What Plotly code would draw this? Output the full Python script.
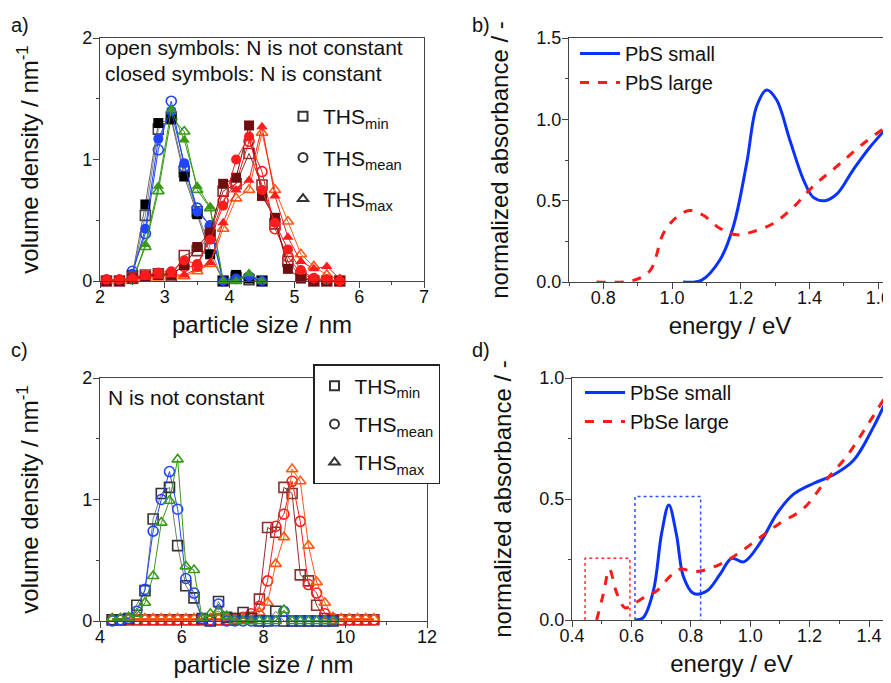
import plotly.graph_objects as go

# the page body adds an 8px margin; the figure is sized so it fills the 891x683 window
OFF = 8
W, H = 891 - OFF, 683 - OFF
FONT = "Arial, Liberation Sans, sans-serif"


def PX(p):
    return (p - OFF) / W


def PY(p):
    return 1 - (p - OFF) / H


# ---------------- panel a data ----------------
xa_small = [2.5, 2.7, 2.9, 3.1, 3.3, 3.5, 3.7, 3.9, 4.1, 4.3, 4.5]
a_min_closed = [0.05, 0.63, 1.30, 1.33, 0.86, 0.55, 0.22, 0.00, 0.05, 0.02, 0.00]
a_min_open = [0.04, 0.54, 1.25, 1.35, 0.90, 0.57, 0.27, 0.00, 0.03, 0.01, 0.00]
a_mean_closed = [0.06, 0.43, 1.17, 1.40, 0.97, 0.57, 0.46, 0.00, 0.02, 0.04, 0.00]
a_mean_open = [0.08, 0.39, 1.08, 1.48, 0.94, 0.60, 0.45, 0.00, 0.02, 0.03, 0.00]
a_max_closed = [0.00, 0.30, 0.78, 1.41, 1.16, 0.78, 0.61, 0.00, 0.00, 0.06, 0.00]
a_max_open = [0.00, 0.28, 0.74, 1.35, 1.23, 0.75, 0.60, 0.00, 0.00, 0.05, 0.00]

xa_large = [2.1, 2.3, 2.5, 2.7, 2.9, 3.1, 3.3, 3.5, 3.7, 3.9,
            4.1, 4.3, 4.5, 4.7, 4.9, 5.1, 5.3, 5.5, 5.7]
A_min_closed = [0.00, 0.00, 0.02, 0.04, 0.05, 0.05, 0.13, 0.28, 0.40, 0.80,
                0.85, 1.28, 0.70, 0.52, 0.10, 0.02, 0.00, 0.00, 0.00]
A_min_open = [0.00, 0.00, 0.03, 0.05, 0.06, 0.04, 0.21, 0.25, 0.38, 0.74,
              0.80, 1.05, 0.79, 0.47, 0.16, 0.04, 0.00, 0.00, 0.00]
A_mean_closed = [0.01, 0.01, 0.02, 0.05, 0.07, 0.08, 0.17, 0.14, 0.34, 0.62,
                 1.00, 1.19, 0.75, 0.48, 0.26, 0.09, 0.02, 0.01, 0.00]
A_mean_open = [0.01, 0.01, 0.02, 0.04, 0.06, 0.06, 0.12, 0.12, 0.36, 0.66,
               0.81, 1.15, 0.90, 0.43, 0.20, 0.06, 0.02, 0.01, 0.00]
A_max_closed = [0.01, 0.01, 0.01, 0.03, 0.04, 0.05, 0.05, 0.10, 0.15, 0.48,
                0.75, 0.83, 1.27, 0.70, 0.36, 0.16, 0.10, 0.12, 0.02]
A_max_open = [0.00, 0.00, 0.01, 0.02, 0.03, 0.04, 0.04, 0.08, 0.14, 0.43,
              0.68, 0.75, 1.22, 0.75, 0.49, 0.22, 0.12, 0.05, 0.01]

# ---------------- panel c data ----------------
xc_small = [4.3, 4.5, 4.7, 4.9, 5.1, 5.3, 5.5, 5.7, 5.9, 6.1, 6.3, 6.5, 6.7, 6.9,
            7.1, 7.3, 7.5, 7.7, 7.9, 8.1, 8.3, 8.5, 8.7, 8.9, 9.1, 9.3, 9.5, 9.7]
c_min = [0.01, 0.01, 0.02, 0.13, 0.25, 0.84, 1.05, 1.10, 0.62, 0.29, 0.19, 0.02, 0.00, 0.16,
         0.03, 0.02, 0.07, 0.02, 0.00, 0.00, 0.08, 0.00, 0.00, 0.00, 0.00, 0.00, 0.00, 0.00]
c_mean = [0.00, 0.01, 0.02, 0.08, 0.26, 0.74, 1.00, 1.23, 0.92, 0.35, 0.23, 0.02, 0.00, 0.14,
          0.00, 0.00, 0.00, 0.00, 0.00, 0.00, 0.00, 0.08, 0.00, 0.00, 0.00, 0.00, 0.00, 0.00]
c_max = [0.02, 0.02, 0.03, 0.06, 0.15, 0.37, 0.81, 0.99, 1.33, 0.45, 0.42, 0.02, 0.06, 0.08,
         0.04, 0.00, 0.00, 0.00, 0.00, 0.00, 0.00, 0.09, 0.00, 0.00, 0.00, 0.00, 0.00, 0.00]

xc_large = [4.3, 4.5, 4.7, 4.9, 5.1, 5.3, 5.5, 5.7, 5.9, 6.1, 6.3, 6.5, 6.7, 6.9, 7.1, 7.3,
            7.5, 7.7, 7.9, 8.1, 8.3, 8.5, 8.7, 8.9, 9.1, 9.3, 9.5, 9.7, 9.9, 10.1, 10.3, 10.5, 10.7]
C_min = [0.01] * 16 + [0.02, 0.03, 0.18, 0.77, 0.73, 1.10, 1.05, 0.38, 0.33, 0.13, 0.02,
                       0.01, 0.01, 0.01, 0.01, 0.01, 0.01]
C_mean = [0.01] * 15 + [0.02, 0.03, 0.06, 0.12, 0.33, 0.78, 0.88, 1.15, 0.82, 0.30, 0.23, 0.06,
                        0.02, 0.01, 0.01, 0.01, 0.01, 0.01]
C_max = [0.02] * 17 + [0.03, 0.07, 0.15, 0.47, 0.69, 1.25, 1.15, 0.62, 0.32, 0.15,
                       0.03, 0.02, 0.02, 0.02, 0.02, 0.02]

# ---------------- panel b data ----------------
pbs_small_e = [1.032, 1.085, 1.139, 1.178, 1.217, 1.246, 1.275, 1.304, 1.343, 1.382,
               1.411, 1.445, 1.479, 1.527, 1.576, 1.637]
pbs_small_a = [0.00, 0.01, 0.135, 0.34, 0.73, 1.08, 1.18, 1.12, 0.87, 0.63,
               0.52, 0.50, 0.54, 0.69, 0.83, 0.975]
pbs_large_e = [0.780, 0.887, 0.936, 0.975, 1.014, 1.052, 1.091, 1.139, 1.188, 1.236,
               1.294, 1.353, 1.411, 1.479, 1.556, 1.637]
pbs_large_a = [0.00, 0.01, 0.07, 0.30, 0.40, 0.44, 0.41, 0.33, 0.29, 0.31,
               0.36, 0.46, 0.59, 0.71, 0.85, 0.975]

# ---------------- panel d data ----------------
pbse_small_e = [0.612, 0.640, 0.674, 0.702, 0.726, 0.752, 0.775, 0.809, 0.854, 0.899,
                0.938, 0.978, 1.034, 1.090, 1.146, 1.214, 1.281, 1.348, 1.416, 1.474]
pbse_small_a = [0.00, 0.01, 0.12, 0.36, 0.475, 0.35, 0.18, 0.11, 0.12, 0.19,
                0.255, 0.24, 0.32, 0.44, 0.52, 0.565, 0.60, 0.66, 0.80, 0.95]
pbse_large_e = [0.483, 0.506, 0.526, 0.551, 0.579, 0.612, 0.651, 0.685, 0.730, 0.763,
                0.819, 0.898, 0.965, 1.032, 1.100, 1.179, 1.257, 1.324, 1.392, 1.474]
pbse_large_a = [0.00, 0.11, 0.21, 0.11, 0.05, 0.07, 0.10, 0.12, 0.18, 0.21,
                0.20, 0.23, 0.28, 0.34, 0.40, 0.46, 0.58, 0.675, 0.80, 0.96]
blue_box_e = [0.612, 0.833]
blue_box_top = 0.51
red_box_e = [0.444, 0.595]
red_box_top = 0.255

BLACK = "#000000"
GRAY = "#444444"
BLUE = "#1f45ff"
GREEN = "#3a9a18"
MAROON = "#6e0f0f"
MAROON_O = "#8a3030"
RED = "#ff1c1c"
ORANGE = "#ff5a14"

fig = go.Figure()


def dist(x, y, color, symbol, xa, ya, open_=False, linecolor=None, size=10):
    fig.add_trace(go.Scatter(
        x=x, y=y, mode="lines+markers", xaxis=xa, yaxis=ya, showlegend=False,
        cliponaxis=False,
        line=dict(color=linecolor or color, width=1),
        marker=dict(symbol=symbol + ("-open" if open_ else ""), size=size,
                    color=color, line=dict(color=color, width=1.6 if open_ else 0))))


# panel a: small particles
dist(xa_small, a_min_open, GRAY, "square", "x", "y", True, "#888888")
dist(xa_small, a_mean_open, BLUE, "circle", "x", "y", True)
dist(xa_small, a_max_open, GREEN, "triangle-up", "x", "y", True)
dist(xa_small, a_min_closed, BLACK, "square", "x", "y", False, "#666666")
dist(xa_small, a_mean_closed, BLUE, "circle", "x", "y", False)
dist(xa_small, a_max_closed, GREEN, "triangle-up", "x", "y", False)
# panel a: large particles
dist(xa_large, A_min_open, MAROON_O, "square", "x", "y", True)
dist(xa_large, A_mean_open, RED, "circle", "x", "y", True)
dist(xa_large, A_max_open, ORANGE, "triangle-up", "x", "y", True)
dist(xa_large, A_min_closed, MAROON, "square", "x", "y", False)
dist(xa_large, A_mean_closed, RED, "circle", "x", "y", False)
dist(xa_large, A_max_closed, RED, "triangle-up", "x", "y", False)

# panel c
dist(xc_large, C_min, MAROON_O, "square", "x3", "y3", True)
dist(xc_large, C_mean, RED, "circle", "x3", "y3", True)
dist(xc_large, C_max, ORANGE, "triangle-up", "x3", "y3", True)
dist(xc_small, c_min, "#333333", "square", "x3", "y3", True, "#777777")
dist(xc_small, c_mean, BLUE, "circle", "x3", "y3", True)
dist(xc_small, c_max, GREEN, "triangle-up", "x3", "y3", True)

# legend entries (a and c)
leg_names = ["THS<sub>min</sub>", "THS<sub>mean</sub>", "THS<sub>max</sub>"]
leg_syms = ["square-open", "circle-open", "triangle-up-open"]
for lg, xa, ya in (("legend", "x", "y"), ("legend2", "x3", "y3")):
    for i, (nm, sy) in enumerate(zip(leg_names, leg_syms)):
        fig.add_trace(go.Scatter(
            x=[None], y=[None], mode="markers", name=nm, xaxis=xa, yaxis=ya,
            legend=lg, legendgroup=lg + str(i),
            marker=dict(symbol=sy, size=9, color="#333333", line=dict(color="#333333", width=2))))

# panel b
fig.add_trace(go.Scatter(x=pbs_small_e, y=pbs_small_a, mode="lines", name="PbS small",
                         line=dict(color="#0a32ff", width=3, shape="spline"),
                         xaxis="x2", yaxis="y2", legend="legend3"))
fig.add_trace(go.Scatter(x=pbs_large_e, y=pbs_large_a, mode="lines", name="PbS large",
                         line=dict(color="#ff1a1a", width=3, dash="dash", shape="spline"),
                         xaxis="x2", yaxis="y2", legend="legend3"))

# panel d
fig.add_trace(go.Scatter(x=pbse_small_e, y=pbse_small_a, mode="lines", name="PbSe small",
                         line=dict(color="#0a32ff", width=3, shape="spline"),
                         xaxis="x4", yaxis="y4", legend="legend4"))
fig.add_trace(go.Scatter(x=pbse_large_e, y=pbse_large_a, mode="lines", name="PbSe large",
                         line=dict(color="#ff1a1a", width=3, dash="dash", shape="spline"),
                         xaxis="x4", yaxis="y4", legend="legend4"))
fig.add_trace(go.Scatter(x=[blue_box_e[0], blue_box_e[0], blue_box_e[1], blue_box_e[1]],
                         y=[0, blue_box_top, blue_box_top, 0], mode="lines", showlegend=False,
                         line=dict(color="#3050ff", width=1.5, dash="dot"),
                         xaxis="x4", yaxis="y4"))
fig.add_trace(go.Scatter(x=[red_box_e[0], red_box_e[0], red_box_e[1], red_box_e[1]],
                         y=[0, red_box_top, red_box_top, 0], mode="lines", showlegend=False,
                         line=dict(color="#ff3030", width=1.5, dash="dot"),
                         xaxis="x4", yaxis="y4"))


def ax(domain, rng, dtick, minor, title, anchor, mirror=True, fmt=None, standoff=10,
       lab_off=0):
    d = dict(domain=domain, range=rng, dtick=dtick, anchor=anchor, automargin=False,
             showline=True, linecolor="#444444", linewidth=1.3, mirror=mirror,
             ticks="outside", ticklen=6, tickwidth=1.2, tickcolor="#444444",
             ticklabelstandoff=lab_off,
             minor=dict(dtick=minor, ticks="outside", ticklen=3, tickcolor="#444444"),
             showgrid=False, zeroline=False,
             tickfont=dict(size=18, color="#111111", family=FONT),
             title=dict(text=title, font=dict(size=24, color="#111111", family=FONT),
                        standoff=standoff))
    if fmt:
        d["tickformat"] = fmt
    return d


XOFF = -7   # x tick labels sit close to the axis
YOFF = -3

fig.update_layout(
    width=W, height=H, margin=dict(l=0, r=0, t=0, b=0, autoexpand=False),
    paper_bgcolor="white", plot_bgcolor="white",
    font=dict(family=FONT, color="#111111"),
    xaxis=ax([PX(100), PX(424)], [2, 7], 1, 0.5, "particle size / nm", "y",
             standoff=10, lab_off=XOFF),
    yaxis=ax([PY(281), PY(38)], [0, 2], 1, 0.5, "volume density / nm<sup>-1</sup>", "x",
             standoff=36, lab_off=YOFF),
    xaxis2=ax([PX(569), 1.0], [0.7, 1.637], 0.2, 0.1, "energy / eV", "y2", fmt=".1f",
              standoff=10, lab_off=XOFF),
    yaxis2=ax([PY(282), PY(38)], [0, 1.5], 0.5, 0.25, "normalized absorbance / -", "x2",
              mirror=False, fmt=".1f", standoff=20, lab_off=YOFF),
    xaxis3=ax([PX(100), PX(427)], [4, 12], 2, 1, "particle size / nm", "y3",
              standoff=10, lab_off=XOFF),
    yaxis3=ax([PY(621), PY(378)], [0, 2], 1, 0.5, "volume density / nm<sup>-1</sup>", "x3",
              standoff=36, lab_off=YOFF),
    xaxis4=ax([PX(572), 1.0], [0.4, 1.474], 0.2, 0.1, "energy / eV", "y4", fmt=".1f",
              standoff=10, lab_off=XOFF),
    yaxis4=ax([PY(620), PY(378)], [0, 1.0], 0.5, 0.25, "normalized absorbance / -", "x4",
              mirror=False, fmt=".1f", standoff=20, lab_off=YOFF),
    legend=dict(x=PX(283), y=PY(96), xanchor="left", yanchor="top",
                bgcolor="rgba(0,0,0,0)", borderwidth=0, traceorder="grouped",
                tracegroupgap=11, font=dict(size=21, family=FONT, color="#111111")),
    legend2=dict(x=PX(313), y=PY(364), xanchor="left", yanchor="top",
                 bgcolor="white", bordercolor="#222222", borderwidth=1.5,
                 traceorder="grouped", tracegroupgap=8,
                 font=dict(size=21, family=FONT, color="#111111")),
    legend3=dict(x=PX(575), y=PY(34), xanchor="left", yanchor="top",
                 bgcolor="rgba(0,0,0,0)", itemwidth=40,
                 font=dict(size=20, family=FONT, color="#111111")),
    legend4=dict(x=PX(580), y=PY(373), xanchor="left", yanchor="top",
                 bgcolor="rgba(0,0,0,0)", itemwidth=40,
                 font=dict(size=20, family=FONT, color="#111111")),
)

annots = [("a)", 9, 25), ("b)", 470, 25), ("c)", 9, 350), ("d)", 470, 350)]
for t, px, py in annots:
    fig.add_annotation(text=t, x=PX(px), y=PY(py), xref="paper", yref="paper",
                       xanchor="left", yanchor="middle", showarrow=False,
                       font=dict(size=20, family=FONT, color="#111111"))
for t, px, py in (("open symbols: N is not constant", 103, 48),
                  ("closed symbols: N is constant", 103, 74),
                  ("N is not constant", 106, 397)):
    fig.add_annotation(text=t, x=PX(px), y=PY(py), xref="paper", yref="paper",
                       xanchor="left", yanchor="middle", showarrow=False,
                       font=dict(size=21, family=FONT, color="#111111"))

fig.write_html("out.html")
